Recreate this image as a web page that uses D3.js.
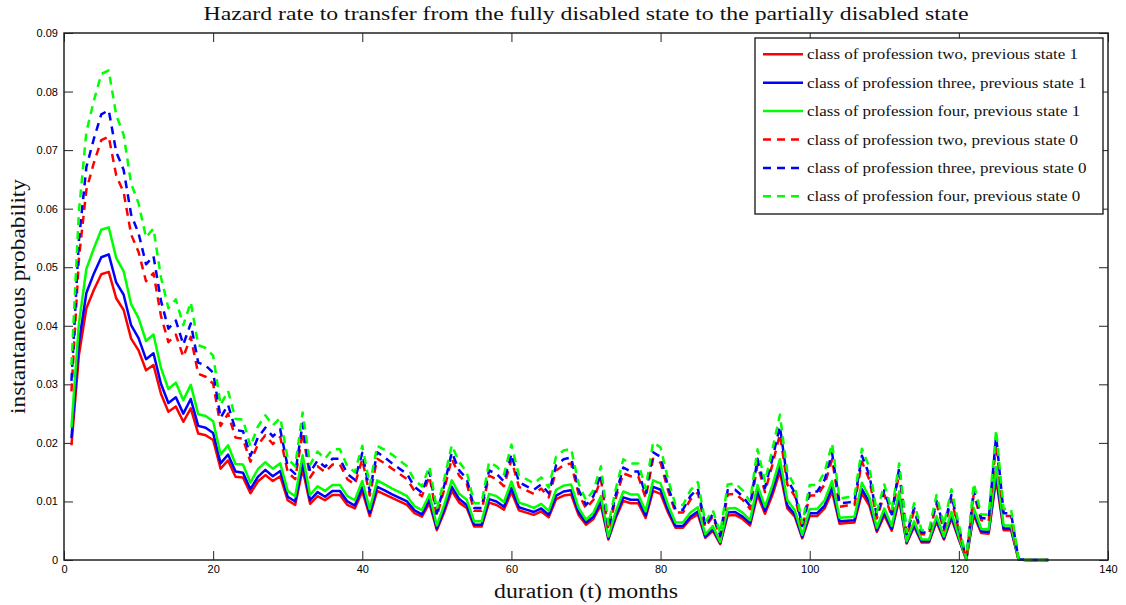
<!DOCTYPE html>
<html><head><meta charset="utf-8">
<script src="https://cdn.jsdelivr.net/npm/d3@7"></script>
<style>body{margin:0;background:#fff}svg{display:block}</style>
</head><body>
<svg id="c" width="1126" height="605"></svg>
<script>
const months = [1,2,3,4,5,6,7,8,9,10,11,12,13,14,15,16,17,18,19,20,21,22,23,24,25,26,27,28,29,30,31,32,33,34,35,36,37,38,39,40,41,42,43,44,45,46,47,48,49,50,51,52,53,54,55,56,57,58,59,60,61,62,63,64,65,66,67,68,69,70,71,72,73,74,75,76,77,78,79,80,81,82,83,84,85,86,87,88,89,90,91,92,93,94,95,96,97,98,99,100,101,102,103,104,105,106,107,108,109,110,111,112,113,114,115,116,117,118,119,120,121,122,123,124,125,126,127,128,129,130,131,132];

const twoPrev1 = [0.0196,0.0350,0.0430,0.0461,0.0488,0.0492,0.0447,0.0427,0.0378,0.0358,
0.0324,0.0333,0.0284,0.0253,0.0262,0.0236,0.0259,0.0216,0.0213,0.0205,
0.0156,0.0170,0.0142,0.0141,0.0114,0.0134,0.0145,0.0135,0.0143,0.0102,
0.0094,0.0155,0.0096,0.0109,0.0102,0.0111,0.0111,0.0094,0.0088,0.0117,
0.0075,0.0118,0.0112,0.0106,0.0100,0.0094,0.0080,0.0074,0.0097,0.0051,
0.0082,0.0118,0.0098,0.0089,0.0057,0.0057,0.0098,0.0094,0.0086,0.0116,
0.0085,0.0081,0.0077,0.0083,0.0073,0.0104,0.0110,0.0112,0.0077,0.0060,
0.0070,0.0094,0.0035,0.0072,0.0101,0.0097,0.0097,0.0072,0.0118,0.0113,
0.0081,0.0055,0.0055,0.0070,0.0078,0.0038,0.0050,0.0027,0.0076,0.0077,
0.0070,0.0059,0.0111,0.0079,0.0111,0.0151,0.0088,0.0074,0.0037,0.0075,
0.0075,0.0088,0.0117,0.0062,0.0063,0.0064,0.0114,0.0093,0.0048,0.0076,
0.0050,0.0103,0.0028,0.0057,0.0030,0.0030,0.0065,0.0035,0.0071,0.0035,
0.0001,0.0077,0.0046,0.0045,0.0138,0.0051,0.0051,0.0001,0,0,0,0];

const threePrev1 = [0.0208,0.0371,0.0456,0.0489,0.0517,0.0522,0.0474,0.0453,0.0401,0.0379,
0.0343,0.0353,0.0301,0.0268,0.0278,0.0250,0.0275,0.0229,0.0226,0.0217,
0.0165,0.0180,0.0151,0.0149,0.0121,0.0142,0.0154,0.0143,0.0152,0.0108,
0.0100,0.0164,0.0102,0.0116,0.0108,0.0118,0.0118,0.0100,0.0093,0.0124,
0.0080,0.0125,0.0119,0.0112,0.0106,0.0100,0.0085,0.0078,0.0103,0.0054,
0.0087,0.0125,0.0104,0.0094,0.0060,0.0060,0.0104,0.0100,0.0091,0.0123,
0.0090,0.0086,0.0082,0.0088,0.0077,0.0110,0.0117,0.0119,0.0082,0.0064,
0.0074,0.0100,0.0037,0.0076,0.0107,0.0103,0.0103,0.0076,0.0125,0.0120,
0.0086,0.0058,0.0058,0.0074,0.0083,0.0040,0.0053,0.0029,0.0081,0.0082,
0.0074,0.0063,0.0118,0.0084,0.0118,0.0160,0.0093,0.0078,0.0039,0.0080,
0.0080,0.0093,0.0124,0.0066,0.0067,0.0068,0.0121,0.0099,0.0051,0.0081,
0.0053,0.0109,0.0030,0.0060,0.0032,0.0032,0.0069,0.0037,0.0075,0.0037,
0.0001,0.0082,0.0049,0.0048,0.0146,0.0054,0.0054,0.0001,0,0,0,0];

const fourPrev1 = [0.0226,0.0404,0.0497,0.0532,0.0564,0.0568,0.0516,0.0493,0.0437,0.0413,
0.0374,0.0385,0.0328,0.0292,0.0303,0.0273,0.0299,0.0249,0.0246,0.0237,
0.0180,0.0196,0.0164,0.0163,0.0132,0.0155,0.0167,0.0156,0.0165,0.0118,
0.0109,0.0179,0.0111,0.0126,0.0118,0.0128,0.0128,0.0109,0.0102,0.0135,
0.0087,0.0136,0.0129,0.0122,0.0116,0.0109,0.0092,0.0085,0.0112,0.0059,
0.0095,0.0136,0.0113,0.0103,0.0066,0.0066,0.0113,0.0109,0.0099,0.0134,
0.0098,0.0094,0.0089,0.0096,0.0084,0.0120,0.0127,0.0129,0.0089,0.0069,
0.0081,0.0109,0.0040,0.0083,0.0117,0.0112,0.0112,0.0083,0.0136,0.0131,
0.0094,0.0064,0.0064,0.0081,0.0090,0.0044,0.0058,0.0031,0.0088,0.0089,
0.0081,0.0068,0.0128,0.0091,0.0128,0.0172,0.0102,0.0085,0.0043,0.0087,
0.0087,0.0102,0.0135,0.0072,0.0073,0.0074,0.0132,0.0107,0.0055,0.0088,
0.0058,0.0117,0.0032,0.0066,0.0035,0.0035,0.0075,0.0040,0.0082,0.0040,
0.0001,0.0089,0.0053,0.0052,0.0159,0.0059,0.0059,0.0001,0,0,0,0];

const twoPrev0 = [0.0288,0.0515,0.0632,0.0678,0.0717,0.0723,0.0657,0.0628,0.0556,0.0526,
0.0476,0.0490,0.0417,0.0372,0.0385,0.0347,0.0381,0.0318,0.0313,0.0301,
0.0229,0.0250,0.0209,0.0207,0.0168,0.0197,0.0213,0.0198,0.0210,0.0150,
0.0138,0.0218,0.0141,0.0160,0.0150,0.0163,0.0163,0.0138,0.0129,0.0172,
0.0110,0.0173,0.0165,0.0156,0.0147,0.0138,0.0118,0.0109,0.0143,0.0075,
0.0121,0.0173,0.0144,0.0131,0.0084,0.0084,0.0144,0.0138,0.0126,0.0171,
0.0125,0.0119,0.0113,0.0122,0.0107,0.0153,0.0162,0.0165,0.0113,0.0088,
0.0103,0.0138,0.0051,0.0106,0.0148,0.0143,0.0143,0.0106,0.0173,0.0166,
0.0119,0.0081,0.0081,0.0103,0.0115,0.0056,0.0074,0.0040,0.0112,0.0113,
0.0103,0.0087,0.0163,0.0116,0.0163,0.0215,0.0129,0.0109,0.0054,0.0110,
0.0110,0.0129,0.0172,0.0091,0.0093,0.0094,0.0168,0.0137,0.0071,0.0112,
0.0074,0.0150,0.0041,0.0084,0.0044,0.0044,0.0096,0.0051,0.0104,0.0051,
0.0001,0.0113,0.0068,0.0066,0.0200,0.0075,0.0075,0.0001,0,0,0,0];

const threePrev0 = [0.0306,0.0546,0.0671,0.0719,0.0761,0.0768,0.0697,0.0666,0.0590,0.0558,
0.0505,0.0519,0.0443,0.0395,0.0409,0.0368,0.0404,0.0337,0.0332,0.0320,
0.0243,0.0265,0.0222,0.0220,0.0178,0.0209,0.0226,0.0211,0.0223,0.0159,
0.0147,0.0233,0.0150,0.0170,0.0159,0.0173,0.0173,0.0147,0.0137,0.0183,
0.0117,0.0184,0.0175,0.0165,0.0156,0.0147,0.0125,0.0115,0.0151,0.0080,
0.0128,0.0184,0.0153,0.0139,0.0089,0.0089,0.0153,0.0147,0.0134,0.0181,
0.0133,0.0126,0.0120,0.0129,0.0114,0.0162,0.0172,0.0175,0.0120,0.0094,
0.0109,0.0147,0.0055,0.0112,0.0158,0.0151,0.0151,0.0112,0.0184,0.0176,
0.0126,0.0086,0.0086,0.0109,0.0122,0.0059,0.0078,0.0042,0.0119,0.0120,
0.0109,0.0092,0.0173,0.0123,0.0173,0.0228,0.0137,0.0115,0.0058,0.0117,
0.0117,0.0137,0.0183,0.0097,0.0098,0.0100,0.0178,0.0145,0.0075,0.0119,
0.0078,0.0158,0.0044,0.0089,0.0047,0.0047,0.0101,0.0055,0.0111,0.0055,
0.0002,0.0120,0.0072,0.0070,0.0212,0.0080,0.0080,0.0001,0,0,0,0];

const fourPrev0 = [0.0333,0.0595,0.0731,0.0784,0.0830,0.0836,0.0760,0.0726,0.0643,0.0609,
0.0551,0.0566,0.0483,0.0430,0.0445,0.0401,0.0440,0.0367,0.0362,0.0349,
0.0265,0.0289,0.0241,0.0240,0.0194,0.0228,0.0247,0.0230,0.0243,0.0173,
0.0160,0.0252,0.0163,0.0185,0.0173,0.0189,0.0189,0.0160,0.0150,0.0195,
0.0128,0.0195,0.0188,0.0180,0.0170,0.0160,0.0136,0.0126,0.0160,0.0087,
0.0139,0.0196,0.0167,0.0151,0.0097,0.0097,0.0167,0.0160,0.0146,0.0197,
0.0145,0.0138,0.0131,0.0141,0.0124,0.0177,0.0187,0.0190,0.0131,0.0102,
0.0119,0.0160,0.0060,0.0122,0.0172,0.0165,0.0165,0.0122,0.0201,0.0192,
0.0138,0.0094,0.0094,0.0119,0.0133,0.0065,0.0085,0.0046,0.0129,0.0131,
0.0119,0.0100,0.0189,0.0134,0.0189,0.0248,0.0150,0.0126,0.0063,0.0128,
0.0128,0.0150,0.0199,0.0105,0.0107,0.0109,0.0190,0.0158,0.0082,0.0129,
0.0085,0.0165,0.0048,0.0097,0.0051,0.0051,0.0111,0.0060,0.0121,0.0060,
0.0002,0.0131,0.0078,0.0077,0.0222,0.0087,0.0087,0.0001,0,0,0,0];

const seriesNames = [
  "class of profession two, previous state 1",
  "class of profession three, previous state 1",
  "class of profession four, previous state 1",
  "class of profession two, previous state 0",
  "class of profession three, previous state 0",
  "class of profession four, previous state 0"
];
const seriesValues = [twoPrev1, threePrev1, fourPrev1, twoPrev0, threePrev0, fourPrev0];
const seriesColors = ["#ff0000","#0000ff","#00ff00","#ff0000","#0000ff","#00ff00"];
const seriesDashed = [false,false,false,true,true,true];

const xTicks = [0,20,40,60,80,100,120,140];
const yTicks = [0,0.01,0.02,0.03,0.04,0.05,0.06,0.07,0.08,0.09];

const title = "Hazard rate to transfer from the fully disabled state to the partially disabled state";
const xLabel = "duration (t) months";
const yLabel = "instantaneous probability";

const L = 64, R = 1108, T = 33, B = 560;
const svg = d3.select("#c");
const x = d3.scaleLinear().domain([0,140]).range([L,R]);
const y = d3.scaleLinear().domain([0,0.09]).range([B,T]);
const serif = "'Liberation Serif','DejaVu Serif',serif";
const sans = "'Liberation Sans',Arial,sans-serif";
const fmtY = d => d === 0 ? "0" : d3.format(".2f")(d);

// stretch a serif text horizontally to imitate the wider Computer Modern face
function widen(sel, factor) {
  sel.each(function(){
    const w = this.getComputedTextLength();
    d3.select(this).attr("textLength", w*factor).attr("lengthAdjust","spacingAndGlyphs");
  });
}

// axes
const gL = svg.append("g").attr("transform",`translate(${L},0)`)
  .call(d3.axisLeft(y).tickValues(yTicks).tickSize(-9).tickPadding(6).tickFormat(fmtY));
const gB = svg.append("g").attr("transform",`translate(0,${B})`)
  .call(d3.axisBottom(x).tickValues(xTicks).tickSize(-9).tickPadding(5));
const gT = svg.append("g").attr("transform",`translate(0,${T})`)
  .call(d3.axisTop(x).tickValues(xTicks).tickSize(-9).tickFormat(""));
const gR = svg.append("g").attr("transform",`translate(${R},0)`)
  .call(d3.axisRight(y).tickValues(yTicks).tickSize(-9).tickFormat(""));
[gL,gB,gT,gR].forEach(g => {
  g.select(".domain").remove();
  g.selectAll("line").attr("stroke","#222").attr("stroke-width",1);
  g.selectAll("text").attr("font-family",sans).attr("font-size",11).attr("fill","#000");
});

// lines
const line = d3.line().x((d,i)=>x(months[i])).y(d=>y(d));
seriesValues.forEach((vals,k) => {
  svg.append("path").datum(vals).attr("d",line)
    .attr("fill","none").attr("stroke",seriesColors[k]).attr("stroke-width",2.5)
    .attr("stroke-linejoin","round")
    .attr("stroke-dasharray", seriesDashed[k] ? "8,6" : null);
});

// frame
svg.append("rect").attr("x",L).attr("y",T).attr("width",R-L).attr("height",B-T)
  .attr("fill","none").attr("stroke","#222").attr("stroke-width",1.5);

// legend
const lg = svg.append("g");
lg.append("rect").attr("x",755).attr("y",38).attr("width",348).attr("height",176)
  .attr("fill","#fff").attr("stroke","#111").attr("stroke-width",1.3);
seriesNames.forEach((name,k) => {
  const cy = 54.3 + k*28.4;
  lg.append("line").attr("x1",763).attr("x2",803).attr("y1",cy).attr("y2",cy)
    .attr("stroke",seriesColors[k]).attr("stroke-width",2.5)
    .attr("stroke-dasharray", seriesDashed[k] ? "8,6" : null);
  const t = lg.append("text").attr("x",807).attr("y",cy+5).text(name)
    .attr("font-family",serif).attr("font-size",15.5).attr("fill","#111");
  widen(t, 1.095);
});

// title & labels
const tt = svg.append("text").attr("x",(L+R)/2).attr("y",20).attr("text-anchor","middle")
  .attr("font-family",serif).attr("font-size",19.5).attr("fill","#111").text(title);
tt.attr("textLength",765).attr("lengthAdjust","spacingAndGlyphs");
const xl = svg.append("text").attr("x",(L+R)/2).attr("y",598).attr("text-anchor","middle")
  .attr("font-family",serif).attr("font-size",20).attr("fill","#111").text(xLabel);
xl.attr("textLength",184).attr("lengthAdjust","spacingAndGlyphs");
const yl = svg.append("text").attr("transform",`translate(25,${(T+B)/2}) rotate(-90)`).attr("text-anchor","middle")
  .attr("font-family",serif).attr("font-size",20).attr("fill","#111").text(yLabel);
yl.attr("textLength",235).attr("lengthAdjust","spacingAndGlyphs");
</script>
</body></html>
